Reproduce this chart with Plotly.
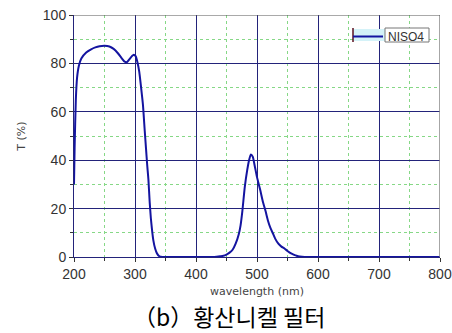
import plotly.graph_objects as go

wavelength = [200, 201, 203, 205, 208, 212, 220, 228, 235, 242, 250, 258, 265, 272, 278, 283, 287, 291, 295, 298, 301, 304, 307, 310,
              313, 316, 318, 320, 322, 324, 326, 328, 330, 333, 336, 340, 345, 360, 400, 430, 440, 445, 450, 455, 460, 465, 470, 473,
              476, 480, 484, 487, 490, 493, 496, 500, 505, 510, 514, 518, 522, 526, 530, 535, 540, 545, 550, 555, 560, 565, 570, 578, 600, 800]
transmittance = [30, 45, 65, 74, 79, 82, 84.5, 85.8, 86.6, 87.1, 87.3, 87.0, 86.0, 84.2, 82.2, 80.7, 80.6, 81.8, 83.0, 83.6, 83.0, 80.5, 76.5, 70,
                 63, 52, 45, 38, 32, 23, 16, 11, 7, 3.5, 1.5, 0.3, 0, 0, 0, 0, 0.3, 0.5, 1, 1.8, 3, 5.5, 9.3, 13,
                 19, 29, 36, 40, 42.4, 41.5, 38, 33, 28, 22.5, 19, 15, 12, 9.8, 7.5, 5.5, 4.3, 3.5, 2.5, 1.6, 1, 0.5, 0.2, 0, 0, 0]

series_name = "NISO4"
x_title = "wavelength (nm)"
y_title = "T (%)"
caption = "（b）황산니켈 필터"

major = "#23237a"
minor_c = "#86d886"

W, H = 452, 333
L, T = 74, 15
PW, PH = 366, 242
R = W - L - PW
B = H - T - PH


def px(xp):
    return (xp - L) / PW


def py(yp):
    return (T + PH - yp) / PH


fig = go.Figure()
fig.add_trace(go.Scatter(x=wavelength, y=transmittance, mode="lines", name=series_name,
                         line=dict(color="#1414a0", width=2, shape="spline", smoothing=0.6)))

fig.update_layout(
    width=W, height=H,
    margin=dict(l=L, r=R, t=T, b=B, pad=0),
    paper_bgcolor="white", plot_bgcolor="white",
    font=dict(family="Liberation Sans, Arial", color="#333333"),
    showlegend=True,
    legend=dict(x=px(348), y=py(22), xanchor="left", yanchor="top", xref="paper", yref="paper",
                bgcolor="rgba(0,0,0,0)", borderwidth=0, itemwidth=30,
                font=dict(size=12, color="#333333"), tracegroupgap=0),
    xaxis=dict(range=[200, 800], dtick=100, tick0=200, showgrid=True, gridcolor=major, gridwidth=1,
               showline=True, linecolor=major, linewidth=1, ticks="outside", ticklen=4, tickcolor="#333",
               tickfont=dict(size=14, color="#333333"), zeroline=False, automargin=False,
               ticklabeloverflow="allow",
               minor=dict(dtick=50, showgrid=True, gridcolor=minor_c, griddash="3px,3px", gridwidth=1,
                          ticks="outside", ticklen=3, tickcolor="#333"),
               title=dict(text=x_title, font=dict(family="DejaVu Sans", size=11, color="#444444"), standoff=6)),
    yaxis=dict(range=[0, 100], dtick=20, showgrid=True, gridcolor=major, gridwidth=1,
               showline=True, linecolor=major, linewidth=1, ticks="outside", ticklen=4, tickcolor="#333",
               tickfont=dict(size=14, color="#333333"), zeroline=False, automargin=False,
               ticklabeloverflow="allow",
               minor=dict(dtick=10, showgrid=True, gridcolor=minor_c, griddash="3px,3px", gridwidth=1,
                          ticks="outside", ticklen=3, tickcolor="#333"),
               title=dict(text=y_title, font=dict(family="DejaVu Sans", size=11, color="#444444"), standoff=14)),
    shapes=[
        dict(type="line", xref="x", yref="y", x0=800, x1=800, y0=0, y1=100, line=dict(color="#888888", width=1.5)),
        dict(type="line", xref="x", yref="y", x0=200, x1=800, y0=100, y1=100, line=dict(color="#555555", width=1)),
        dict(type="rect", xref="paper", yref="paper", x0=px(353), x1=px(385), y0=py(41), y1=py(29),
             fillcolor="#d4f2f8", line=dict(width=0), layer="above"),
        dict(type="rect", xref="paper", yref="paper", x0=px(385), x1=px(429), y0=py(42), y1=py(28),
             fillcolor="white", line=dict(color="#777777", width=1), layer="above"),
        dict(type="line", xref="paper", yref="paper", x0=px(353), x1=px(353), y0=py(42), y1=py(28),
             line=dict(color="#5a1020", width=1.5), layer="above"),
    ],
    annotations=[
        dict(text=caption, xref="paper", yref="paper", x=px(229), y=py(316),
             xanchor="center", yanchor="middle", showarrow=False,
             font=dict(family="Noto Sans CJK KR", size=23, color="black")),
    ],
)

fig.write_html("out.html", config={"displayModeBar": False},
               post_script="document.body.style.margin='0';document.body.style.overflow='hidden';")
